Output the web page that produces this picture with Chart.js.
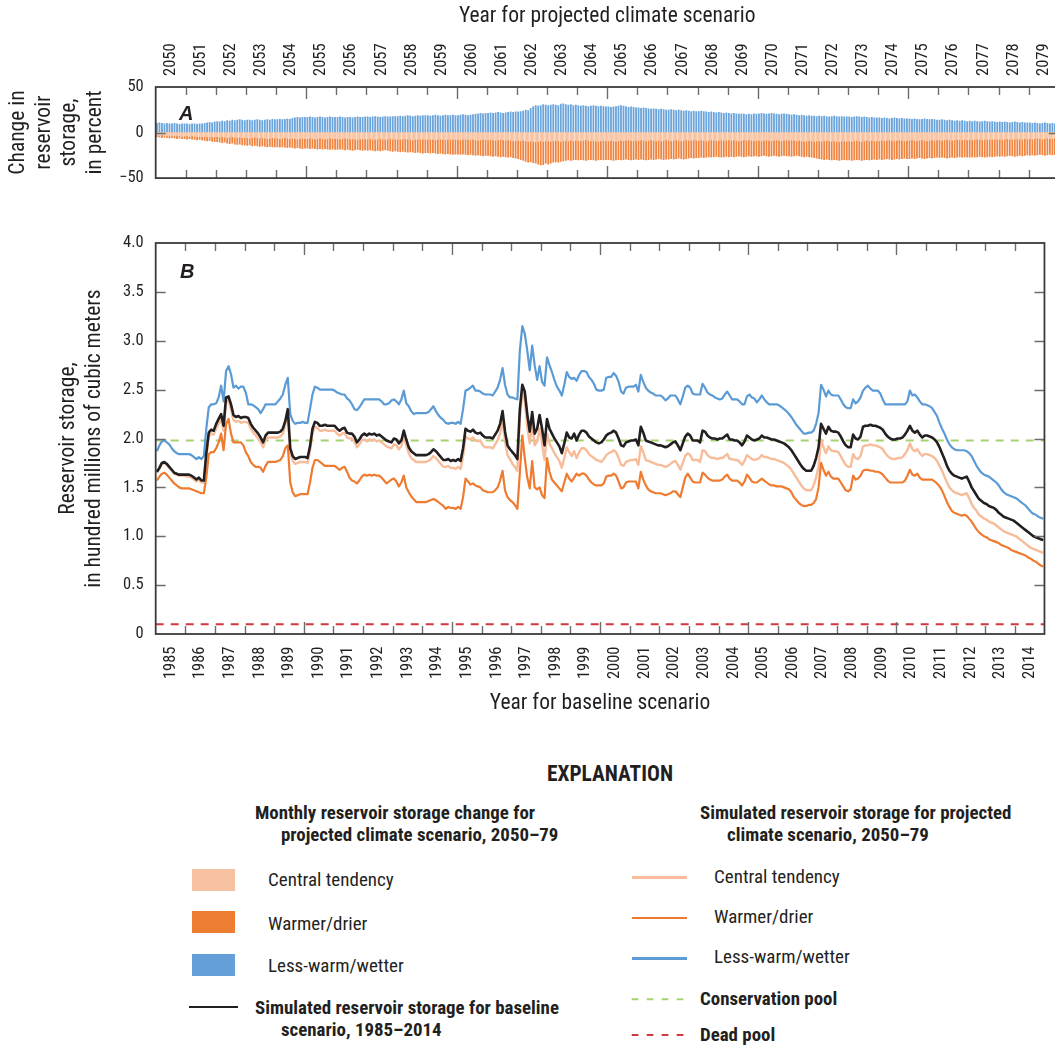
<!DOCTYPE html>
<html>
<head>
<meta charset="utf-8">
<script src="https://cdn.jsdelivr.net/npm/chart.js@4.4.1/dist/chart.umd.min.js"></script>
<style>
  html, body { margin: 0; padding: 0; background: #fff; }
  #wrap { position: relative; width: 1055px; height: 1046px; overflow: hidden; background: #fff;
          font-family: 'Roboto', sans-serif; font-stretch: condensed; color: #231f20; }
  .abs { position: absolute; white-space: nowrap; line-height: 1; }
  .lg { font-size: 19px; }
  .lgb { font-size: 18.9px; font-weight: bold; }
  .panel { font-family: 'Liberation Sans', sans-serif; font-stretch: normal; font-weight: bold; font-style: italic; font-size: 20px; }
</style>
</head>
<body>
<div id="wrap">
  <div class="abs" style="left:0;top:0;width:1062px;height:200px;"><canvas id="cA" width="1062" height="200"></canvas></div>
  <div class="abs" style="left:0;top:200px;width:1062px;height:520px;"><canvas id="cB" width="1062" height="520"></canvas></div>

  <div class="abs panel" style="left:179px;top:103px;">A</div>
  <div class="abs panel" style="left:180px;top:261px;">B</div>

  <!-- Explanation -->
  <div class="abs" style="left:410px;width:400px;text-align:center;top:763px;font-size:21.4px;font-weight:bold;">EXPLANATION</div>

  <div class="abs lgb" style="left:255px;top:804px;">Monthly reservoir storage change for</div>
  <div class="abs lgb" style="left:281px;top:825.7px;">projected climate scenario, 2050–79</div>
  <div class="abs" style="left:192px;top:869px;width:43px;height:22px;background:#f7c1a1;"></div>
  <div class="abs" style="left:192px;top:911px;width:43px;height:22px;background:#ed7d31;"></div>
  <div class="abs" style="left:192px;top:954px;width:43px;height:22px;background:#659fd8;"></div>
  <div class="abs lg" style="left:268px;top:870px;">Central tendency</div>
  <div class="abs lg" style="left:268px;top:914px;">Warmer/drier</div>
  <div class="abs lg" style="left:268px;top:955.7px;">Less-warm/wetter</div>
  <div class="abs" style="left:189px;top:1006px;width:49px;height:2.4px;background:#231f20;"></div>
  <div class="abs lgb" style="left:255px;top:999px;">Simulated reservoir storage for baseline</div>
  <div class="abs lgb" style="left:281px;top:1020.7px;">scenario, 1985–2014</div>

  <div class="abs lgb" style="left:700px;top:804px;">Simulated reservoir storage for projected</div>
  <div class="abs lgb" style="left:727px;top:825.7px;">climate scenario, 2050–79</div>
  <div class="abs" style="left:632px;top:876px;width:55px;height:2.5px;background:#f7bc9a;"></div>
  <div class="abs" style="left:632px;top:916.5px;width:55px;height:2.5px;background:#ee7b30;"></div>
  <div class="abs" style="left:632px;top:957px;width:55px;height:2.5px;background:#5b9bd5;"></div>
  <div class="abs lg" style="left:714px;top:867.3px;">Central tendency</div>
  <div class="abs lg" style="left:714px;top:907.3px;">Warmer/drier</div>
  <div class="abs lg" style="left:714px;top:947.3px;">Less-warm/wetter</div>
  <svg class="abs" style="left:630px;top:994px;" width="60" height="50">
    <line x1="1.7" y1="5.3" x2="60" y2="5.3" stroke="#a6d26f" stroke-width="2" stroke-dasharray="6.7 8.3"/>
    <line x1="1.7" y1="41" x2="60" y2="41" stroke="#d1373f" stroke-width="2" stroke-dasharray="6.7 8.3"/>
  </svg>
  <div class="abs lgb" style="left:700px;top:990px;">Conservation pool</div>
  <div class="abs lgb" style="left:700px;top:1025.7px;">Dead pool</div>
</div>

<script>
// ---------------- DATA ----------------
const projectedYears = ['2050','2051','2052','2053','2054','2055','2056','2057','2058','2059','2060','2061','2062','2063','2064','2065','2066','2067','2068','2069','2070','2071','2072','2073','2074','2075','2076','2077','2078','2079'];
const baselineYears = ['1985','1986','1987','1988','1989','1990','1991','1992','1993','1994','1995','1996','1997','1998','1999','2000','2001','2002','2003','2004','2005','2006','2007','2008','2009','2010','2011','2012','2013','2014'];

// Panel A: monthly reservoir storage change, percent (one row per year)
const lessWarmWetterChange = [
10.5,11,10.5,10,10.5,10,10,10.5,10,9.5,10,10,
10,9.5,10,10,9.5,10,10,10.5,11,11.5,11,12,
12.5,12,13,12.5,13.5,13,14,13.5,14,14.5,14,13.5,
14,14,13.5,14,14.5,14,13.5,14,14.5,14,15,14.5,
14.5,15,14.5,15,15.5,15,16,16.5,17,16.5,17,17,
17,17.5,17,16.5,17,17.5,17,16.5,17,17.5,17,17,
17,17.5,17,16.5,17,17,16.5,17,17.5,17,17,17.5,
17.5,17,17.5,18,17.5,17,17.5,18,17.5,17.5,18,18,
18,18.5,18,18.5,19,18.5,18,18.5,19,18.5,19,19,
19,18.5,19,19.5,19,18.5,19,19.5,19,19,19.5,19,
19,19.5,20,19.5,19,19.5,20,20.5,21,21.5,21,21.5,
21.5,22,21.5,22,22.5,22,21.5,22,22.5,23,22.5,23,
23,23.5,24,25,24.5,27,29,30,29.5,30,31,30.5,
30,30.5,31,30.5,30,31.5,32,31,30.5,31,30,30.5,
30,29.5,30,29.5,29,29.5,30,29.5,29,29.5,29,28.5,
28.5,28,28.5,29,29.5,30,29.5,29,28,28.5,28,27.5,
27.5,27,27.5,27,26.5,26,26.5,26,25.5,26,25.5,25,
25,25.5,25,24.5,25,24.5,24,24.5,24,23.5,24,23.5,
23.5,24,23.5,23,22.5,23,22.5,22,22.5,22,21.5,22,
21.5,21,21.5,21,20.5,21,20.5,20,20.5,20,21,20.5,
21,21.5,21,20.5,21,21.5,21,20.5,20,20.5,21,20.5,
20,19.5,20,19.5,19,19.5,19,18.5,19,18.5,18.5,18,
18.5,18,18.5,18,17.5,18,18.5,18,17.5,18,17.5,17.5,
17.5,17,17.5,18,17.5,17,17.5,17,16.5,17,16.5,16.5,
16.5,16,16.5,16,15.5,16,16.5,16,15.5,16,15.5,15.5,
15.5,15,15.5,15,14.5,15,15.5,15,14.5,15,14.5,14,
14,14.5,14,13.5,14,13.5,13,13.5,13,13.5,13,12.5,
13,12.5,13,12.5,12,12.5,13,12.5,12,12.5,12,11.5,
12,11.5,12,11.5,11,11.5,12,11.5,11,11.5,11,11,
11,10.5,11,10.5,10,10.5,11,10.5,10,10.5,10,10
];
const warmerDrierChange = [
-5,-5.5,-6,-5.5,-6,-6.5,-6,-6.5,-7,-6.5,-7,-7,
-7.5,-7,-7.5,-8,-8.5,-8,-8.5,-9,-9.5,-9,-10,-10.5,
-10.5,-11,-11.5,-11,-12,-12.5,-12,-13,-13.5,-13,-14,-14,
-14.5,-14,-15,-14.5,-15,-15.5,-15,-15.5,-16,-15.5,-16,-16,
-16,-16.5,-16,-16.5,-17,-16.5,-17,-17.5,-17,-17.5,-18,-17.5,
-17.5,-18,-17.5,-18,-18.5,-18,-18.5,-18,-18.5,-19,-18.5,-19,
-19,-18.5,-19,-19.5,-19,-19.5,-20,-19.5,-19,-19.5,-20,-19.5,
-20,-19.5,-20,-20.5,-20,-20.5,-20,-19.5,-20,-20.5,-21,-20.5,
-21,-21.5,-21,-21.5,-22,-21.5,-22,-22.5,-22,-22.5,-23,-22.5,
-22.5,-23,-22.5,-23,-23.5,-23,-23.5,-24,-23.5,-24,-24.5,-24,
-24,-24.5,-24,-24.5,-25,-24.5,-25,-25.5,-25,-25.5,-26,-25.5,
-25.5,-26,-26.5,-26,-26.5,-27,-26.5,-27,-27.5,-27,-28,-28.5,
-29,-30,-31,-32,-33,-32.5,-33.5,-34,-35,-36,-35.5,-34,
-35,-34,-33,-32.5,-33,-32,-31.5,-31,-30.5,-31,-30.5,-30,
-30.5,-30,-30.5,-31,-30.5,-30,-30.5,-31,-30.5,-30,-30.5,-30,
-30,-30.5,-31,-30.5,-30,-30.5,-30,-29.5,-30,-30.5,-30,-29.5,
-30,-29.5,-30,-30.5,-30,-29.5,-30,-29.5,-29,-29.5,-30,-29.5,
-29.5,-29,-29.5,-29,-28.5,-29,-29.5,-29,-28.5,-28,-28.5,-28,
-28,-27.5,-28,-27.5,-27,-27.5,-27,-26.5,-27,-27.5,-27,-26.5,
-27,-26.5,-27,-26.5,-26,-26.5,-27,-26.5,-26,-26.5,-26,-26,
-26.5,-26,-25.5,-26,-26.5,-26,-25.5,-26,-26.5,-26,-25.5,-26,
-26,-26.5,-26,-25.5,-26,-26.5,-27,-26.5,-27,-27.5,-28,-28.5,
-29,-29.5,-30,-29.5,-30,-30.5,-30,-30.5,-31,-30.5,-30,-30.5,
-30.5,-31,-30.5,-30,-30.5,-31,-30.5,-30,-30.5,-30,-29.5,-30,
-29.5,-30,-29.5,-29,-29.5,-30,-29.5,-29,-29.5,-29,-28.5,-29,
-29,-28.5,-29,-28.5,-28,-28.5,-29,-28.5,-28,-28.5,-28,-27.5,
-28,-27.5,-28,-28.5,-28,-27.5,-28,-27.5,-27,-27.5,-27,-27.5,
-27.5,-27,-27.5,-27,-26.5,-27,-27.5,-27,-26.5,-27,-26.5,-26,
-26.5,-26,-26.5,-26,-25.5,-26,-26.5,-26,-25.5,-26,-25.5,-25,
-25.5,-25,-25.5,-25,-24.5,-25,-25.5,-25,-24.5,-25,-24.5,-24
];
const centralTendencyChange = [
-3,-3.5,-3,-3.5,-4,-3.5,-4,-4,-3.5,-4,-4.5,-4,
-4,-4.5,-4,-4.5,-5,-4.5,-5,-4.5,-5,-5.5,-5,-5,
-5,-5.5,-5,-5.5,-6,-5.5,-5,-5.5,-6,-5.5,-6,-6,
-6,-6.5,-6,-5.5,-6,-6.5,-6,-6.5,-7,-6.5,-6,-6.5,
-6.5,-7,-6.5,-6,-6.5,-7,-6.5,-7,-7.5,-7,-6.5,-7,
-7,-6.5,-7,-7.5,-7,-6.5,-7,-7.5,-7,-6.5,-7,-7,
-7,-7.5,-7,-6.5,-7,-7.5,-7,-7.5,-8,-7.5,-7,-7.5,
-7.5,-7,-7.5,-8,-7.5,-7,-7.5,-8,-7.5,-7,-7.5,-7.5,
-7.5,-8,-7.5,-7,-7.5,-8,-8.5,-8,-7.5,-8,-7.5,-8,
-8,-7.5,-8,-8.5,-8,-7.5,-8,-8.5,-8,-7.5,-8,-8,
-8,-8.5,-8,-7.5,-8,-8.5,-8,-8.5,-9,-8.5,-8,-8.5,
-8.5,-8,-8.5,-9,-8.5,-8,-8.5,-9,-8.5,-9,-9.5,-9,
-9,-9.5,-9,-9.5,-10,-9.5,-10,-10.5,-10,-9.5,-10,-9.5,
-9.5,-10,-9.5,-9,-9.5,-10,-9.5,-9,-9.5,-9,-9.5,-9,
-9,-9.5,-9,-8.5,-9,-9.5,-9,-9.5,-10,-9.5,-9,-9.5,
-9.5,-9,-9.5,-10,-9.5,-9,-9.5,-9,-8.5,-9,-9.5,-9,
-9,-8.5,-9,-9.5,-9,-8.5,-9,-9.5,-9,-9.5,-9,-8.5,
-9,-9.5,-9,-8.5,-9,-9.5,-9,-8.5,-9,-9,-8.5,-9,
-9,-8.5,-9,-9.5,-9,-8.5,-9,-9.5,-9,-8.5,-9,-9,
-8.5,-9,-8.5,-9,-9.5,-9,-8.5,-9,-8.5,-9,-9.5,-9,
-9,-9.5,-9,-8.5,-9,-9.5,-9,-8.5,-9,-9.5,-9,-8.5,
-9,-8.5,-9,-9.5,-9,-9.5,-10,-9.5,-9,-9.5,-10,-9.5,
-9.5,-10,-9.5,-9,-9.5,-10,-9.5,-10,-10.5,-10,-9.5,-10,
-9.5,-10,-9.5,-9,-9.5,-10,-9.5,-9,-9.5,-9,-9.5,-9.5,
-9.5,-9,-9.5,-9,-8.5,-9,-9.5,-9,-8.5,-9,-9.5,-9,
-9,-8.5,-9,-9.5,-9,-8.5,-9,-9.5,-9,-8.5,-9,-8.5,
-8.5,-9,-8.5,-8,-8.5,-9,-8.5,-8,-8.5,-8.5,-8,-8.5,
-8,-8.5,-8,-7.5,-8,-8.5,-8,-7.5,-8,-8,-7.5,-8,
-7.5,-8,-7.5,-7,-7.5,-8,-7.5,-7,-7.5,-7.5,-7,-7.5,
-7,-7.5,-7,-6.5,-7,-7.5,-7,-6.5,-7,-7,-6.5,-7
];

// Panel B: monthly reservoir storage, hundred millions of cubic meters (one row per year)
const baselineStorage = [
1.66,1.70,1.75,1.76,1.74,1.71,1.68,1.65,1.64,1.63,1.63,1.63,
1.63,1.63,1.62,1.60,1.58,1.60,1.57,1.57,1.85,2.06,2.09,2.08,
2.15,2.20,2.25,2.13,2.42,2.43,2.35,2.24,2.22,2.23,2.21,2.22,
2.22,2.21,2.15,2.11,2.08,2.05,2.01,1.96,2.03,2.06,2.06,2.06,
2.06,2.06,2.07,2.10,2.18,2.30,1.90,1.82,1.79,1.80,1.81,1.81,
1.81,1.80,1.92,2.10,2.17,2.16,2.13,2.13,2.14,2.13,2.13,2.13,
2.13,2.10,2.08,2.10,2.11,2.06,2.05,2.05,2.02,1.96,1.99,2.03,
2.05,2.03,2.05,2.04,2.05,2.03,2.04,2.02,2.00,1.98,1.97,1.96,
2.00,1.99,1.95,1.98,2.08,1.99,1.91,1.87,1.85,1.83,1.83,1.83,
1.83,1.83,1.84,1.86,1.89,1.87,1.84,1.81,1.78,1.78,1.79,1.77,
1.78,1.77,1.79,1.77,1.90,2.10,2.08,2.07,2.09,2.06,2.05,2.06,
2.03,2.01,2.01,2.01,2.00,2.04,2.08,2.15,2.28,2.07,1.93,1.89,
1.86,1.83,1.79,2.30,2.55,2.48,2.25,2.07,2.27,2.05,2.10,2.24,
2.10,1.93,2.20,2.10,2.05,2.00,1.96,1.92,1.85,1.95,2.06,2.01,
2.00,2.05,1.98,2.04,2.08,2.08,2.06,2.02,2.00,1.98,1.96,1.95,
1.96,1.99,2.03,2.05,2.06,2.08,2.06,2.00,1.93,1.92,1.96,1.97,
1.98,1.98,1.99,1.93,2.12,2.06,1.98,1.97,1.96,1.95,1.94,1.93,
1.93,1.92,1.91,1.92,1.94,1.96,1.97,1.93,1.88,1.95,2.02,2.05,
2.03,1.98,1.98,1.98,1.96,2.08,2.07,2.03,2.01,2.00,2.00,1.99,
2.00,2.00,2.02,2.04,1.99,1.99,1.98,1.98,1.96,1.93,1.97,2.03,
2.01,1.99,1.98,1.99,2.00,2.03,2.01,2.01,2.00,1.99,1.99,1.98,
1.97,1.96,1.95,1.93,1.91,1.88,1.84,1.80,1.76,1.72,1.69,1.67,
1.67,1.67,1.72,1.80,1.91,2.15,2.10,2.05,2.12,2.08,2.07,2.07,
2.06,2.02,1.97,1.93,1.91,1.91,2.04,2.00,1.99,2.02,2.12,2.13,
2.13,2.14,2.13,2.13,2.12,2.11,2.09,2.05,2.02,2.00,1.99,1.99,
2.00,2.00,2.01,2.04,2.08,2.13,2.08,2.06,2.08,2.04,2.01,2.03,
2.03,2.02,2.01,1.99,1.96,1.91,1.85,1.79,1.72,1.67,1.64,1.62,
1.61,1.60,1.59,1.60,1.61,1.56,1.50,1.46,1.42,1.38,1.36,1.34,
1.33,1.31,1.30,1.29,1.27,1.24,1.22,1.20,1.19,1.18,1.17,1.16,
1.14,1.12,1.10,1.08,1.06,1.04,1.02,1.00,0.99,0.98,0.97,0.96
];
const centralTendencyStorage = [
1.65,1.69,1.74,1.75,1.73,1.70,1.67,1.64,1.63,1.62,1.62,1.62,
1.61,1.61,1.60,1.58,1.56,1.58,1.55,1.55,1.81,2.02,2.05,2.04,
2.10,2.15,2.20,2.08,2.38,2.39,2.30,2.19,2.17,2.18,2.16,2.17,
2.17,2.16,2.10,2.06,2.03,2.00,1.96,1.91,1.98,2.01,2.01,2.01,
2.01,2.01,2.02,2.05,2.14,2.27,1.85,1.77,1.74,1.75,1.76,1.76,
1.76,1.75,1.87,2.05,2.12,2.11,2.08,2.08,2.09,2.08,2.08,2.08,
2.08,2.05,2.03,2.05,2.06,2.01,2.00,2.00,1.97,1.91,1.94,1.98,
1.99,1.97,1.99,1.98,1.99,1.97,1.98,1.96,1.94,1.92,1.91,1.90,
1.94,1.93,1.89,1.92,2.02,1.93,1.85,1.80,1.78,1.76,1.76,1.76,
1.76,1.76,1.77,1.79,1.82,1.80,1.77,1.74,1.71,1.71,1.72,1.70,
1.70,1.69,1.71,1.69,1.82,2.02,2.00,1.99,2.01,1.98,1.97,1.98,
1.93,1.91,1.91,1.91,1.90,1.94,1.98,2.05,2.19,1.97,1.83,1.79,
1.74,1.71,1.67,2.20,2.49,2.38,2.12,1.95,2.15,1.93,1.97,2.10,
1.95,1.78,2.05,1.95,1.90,1.85,1.81,1.77,1.70,1.80,1.91,1.86,
1.82,1.87,1.80,1.86,1.90,1.90,1.88,1.84,1.82,1.80,1.78,1.77,
1.76,1.79,1.83,1.85,1.86,1.88,1.86,1.80,1.73,1.72,1.76,1.77,
1.78,1.78,1.79,1.73,1.92,1.86,1.78,1.77,1.76,1.75,1.74,1.73,
1.73,1.72,1.71,1.72,1.74,1.76,1.77,1.73,1.68,1.75,1.82,1.85,
1.83,1.78,1.78,1.78,1.76,1.88,1.87,1.83,1.81,1.80,1.80,1.79,
1.80,1.80,1.82,1.84,1.79,1.79,1.78,1.78,1.76,1.73,1.77,1.83,
1.81,1.79,1.78,1.79,1.80,1.83,1.81,1.81,1.80,1.79,1.79,1.78,
1.77,1.76,1.75,1.73,1.71,1.68,1.64,1.60,1.56,1.52,1.49,1.47,
1.47,1.47,1.52,1.60,1.71,1.99,1.91,1.85,1.92,1.88,1.87,1.87,
1.86,1.82,1.77,1.73,1.71,1.71,1.84,1.80,1.79,1.82,1.92,1.93,
1.93,1.94,1.93,1.93,1.92,1.91,1.89,1.85,1.82,1.80,1.79,1.79,
1.80,1.80,1.81,1.84,1.88,1.95,1.89,1.87,1.89,1.85,1.82,1.84,
1.84,1.83,1.82,1.80,1.77,1.72,1.67,1.61,1.55,1.50,1.47,1.45,
1.44,1.43,1.42,1.43,1.44,1.39,1.33,1.29,1.26,1.22,1.20,1.18,
1.17,1.15,1.14,1.13,1.11,1.09,1.07,1.05,1.04,1.03,1.02,1.01,
1.00,0.98,0.96,0.94,0.92,0.90,0.88,0.87,0.86,0.85,0.84,0.83
];
const warmerDrierStorage = [
1.57,1.61,1.64,1.65,1.63,1.60,1.57,1.54,1.52,1.50,1.49,1.49,
1.49,1.49,1.48,1.47,1.46,1.45,1.44,1.44,1.60,1.84,1.86,1.86,
1.90,1.96,2.05,1.88,2.15,2.20,2.05,1.96,1.96,1.96,1.96,1.93,
1.86,1.82,1.76,1.73,1.71,1.71,1.70,1.66,1.72,1.76,1.76,1.76,
1.76,1.77,1.78,1.82,1.90,1.93,1.55,1.45,1.41,1.42,1.43,1.43,
1.43,1.43,1.55,1.70,1.78,1.78,1.76,1.74,1.72,1.72,1.72,1.72,
1.72,1.70,1.68,1.70,1.71,1.66,1.60,1.57,1.56,1.54,1.57,1.61,
1.63,1.62,1.63,1.62,1.63,1.62,1.62,1.60,1.57,1.54,1.56,1.58,
1.59,1.56,1.51,1.55,1.62,1.50,1.45,1.41,1.38,1.35,1.35,1.35,
1.35,1.35,1.36,1.37,1.38,1.37,1.35,1.33,1.31,1.28,1.30,1.29,
1.29,1.28,1.30,1.28,1.40,1.59,1.56,1.53,1.54,1.52,1.51,1.50,
1.47,1.46,1.45,1.45,1.45,1.47,1.50,1.57,1.67,1.47,1.40,1.37,
1.35,1.32,1.28,1.65,2.03,1.80,1.60,1.49,1.77,1.50,1.48,1.50,
1.42,1.39,1.80,1.66,1.58,1.55,1.52,1.49,1.46,1.55,1.64,1.59,
1.56,1.60,1.64,1.62,1.64,1.64,1.62,1.58,1.55,1.53,1.52,1.52,
1.52,1.54,1.61,1.62,1.62,1.64,1.62,1.56,1.49,1.50,1.55,1.56,
1.56,1.56,1.56,1.49,1.66,1.58,1.52,1.48,1.46,1.45,1.44,1.44,
1.44,1.43,1.42,1.43,1.44,1.46,1.46,1.43,1.40,1.50,1.60,1.64,
1.60,1.56,1.55,1.55,1.55,1.65,1.63,1.60,1.58,1.57,1.57,1.57,
1.57,1.58,1.61,1.63,1.59,1.57,1.57,1.57,1.55,1.52,1.56,1.63,
1.60,1.56,1.55,1.55,1.57,1.59,1.57,1.55,1.53,1.52,1.52,1.51,
1.51,1.51,1.50,1.49,1.48,1.45,1.40,1.37,1.34,1.32,1.31,1.31,
1.32,1.32,1.34,1.38,1.50,1.75,1.68,1.62,1.66,1.61,1.59,1.59,
1.59,1.55,1.51,1.47,1.46,1.48,1.62,1.58,1.59,1.62,1.67,1.68,
1.68,1.67,1.67,1.66,1.66,1.65,1.63,1.60,1.57,1.55,1.55,1.55,
1.55,1.55,1.55,1.57,1.62,1.68,1.63,1.62,1.64,1.60,1.58,1.58,
1.58,1.58,1.58,1.56,1.54,1.51,1.47,1.41,1.35,1.30,1.26,1.24,
1.23,1.22,1.21,1.22,1.21,1.18,1.15,1.11,1.07,1.04,1.02,1.00,
0.99,0.97,0.96,0.95,0.94,0.93,0.91,0.90,0.89,0.88,0.86,0.85,
0.84,0.83,0.82,0.81,0.80,0.78,0.77,0.75,0.74,0.72,0.70,0.69
];
const lessWarmWetterStorage = [
1.87,1.93,1.97,1.98,1.96,1.94,1.90,1.87,1.85,1.84,1.84,1.84,
1.84,1.84,1.83,1.81,1.79,1.81,1.79,1.82,2.10,2.32,2.35,2.35,
2.36,2.42,2.54,2.38,2.69,2.74,2.66,2.52,2.54,2.51,2.53,2.53,
2.47,2.35,2.35,2.34,2.32,2.30,2.26,2.30,2.35,2.35,2.35,2.35,
2.35,2.38,2.41,2.45,2.55,2.62,2.25,2.18,2.15,2.16,2.16,2.17,
2.16,2.16,2.30,2.45,2.53,2.52,2.50,2.50,2.50,2.50,2.50,2.50,
2.49,2.47,2.46,2.45,2.45,2.41,2.39,2.35,2.30,2.29,2.32,2.36,
2.40,2.40,2.40,2.40,2.40,2.40,2.40,2.38,2.35,2.35,2.36,2.39,
2.40,2.38,2.35,2.40,2.49,2.36,2.33,2.28,2.25,2.26,2.26,2.26,
2.26,2.26,2.27,2.30,2.33,2.28,2.24,2.21,2.19,2.16,2.15,2.16,
2.16,2.15,2.17,2.15,2.30,2.49,2.50,2.52,2.54,2.49,2.49,2.48,
2.46,2.45,2.45,2.45,2.44,2.48,2.52,2.60,2.72,2.55,2.45,2.42,
2.42,2.41,2.40,2.90,3.15,3.07,2.90,2.70,2.95,2.75,2.60,2.74,
2.58,2.54,2.83,2.75,2.68,2.60,2.53,2.49,2.44,2.55,2.68,2.63,
2.61,2.62,2.59,2.65,2.69,2.69,2.68,2.63,2.60,2.56,2.50,2.49,
2.49,2.50,2.62,2.63,2.63,2.67,2.64,2.58,2.48,2.46,2.52,2.53,
2.53,2.53,2.55,2.48,2.65,2.58,2.52,2.49,2.47,2.46,2.44,2.44,
2.44,2.42,2.39,2.41,2.44,2.44,2.44,2.40,2.35,2.43,2.52,2.54,
2.52,2.46,2.45,2.45,2.45,2.56,2.52,2.47,2.45,2.44,2.42,2.41,
2.40,2.41,2.45,2.48,2.44,2.40,2.40,2.40,2.38,2.35,2.35,2.43,
2.45,2.42,2.41,2.37,2.40,2.44,2.40,2.37,2.35,2.35,2.35,2.35,
2.34,2.32,2.30,2.28,2.25,2.22,2.18,2.14,2.11,2.08,2.05,2.05,
2.06,2.06,2.08,2.15,2.26,2.55,2.50,2.43,2.49,2.45,2.44,2.44,
2.44,2.40,2.35,2.32,2.31,2.31,2.40,2.36,2.38,2.42,2.49,2.52,
2.54,2.51,2.49,2.49,2.49,2.46,2.40,2.35,2.35,2.35,2.35,2.35,
2.35,2.35,2.35,2.35,2.38,2.49,2.44,2.45,2.42,2.38,2.35,2.35,
2.34,2.33,2.31,2.27,2.23,2.16,2.10,2.05,1.99,1.94,1.91,1.89,
1.88,1.88,1.88,1.88,1.87,1.85,1.82,1.77,1.72,1.68,1.65,1.63,
1.62,1.61,1.59,1.57,1.55,1.52,1.48,1.45,1.43,1.42,1.41,1.40,
1.39,1.37,1.35,1.33,1.31,1.28,1.25,1.23,1.22,1.20,1.19,1.18
];
const conservationPool = 1.98;
const deadPool = 0.1;

// month positions (month i sits at i + 0.5 on a 0..360 month scale)
const monthPositions = lessWarmWetterChange.map((_, i) => i + 0.5);
const MONTHS = 12 * baselineYears.length;

// ---------------- STYLE ----------------
Chart.defaults.font.family = "Roboto, 'Liberation Sans', sans-serif";
Chart.defaults.font.weight = 'condensed';   // selects the condensed width of Roboto
Chart.defaults.color = '#231f20';

const TICK_SIZE = 16.5;
const TITLE_SIZE = 21.5;
const TITLE_LH = 1.19;

const framePlugin = {
  id: 'frame',
  afterDatasetsDraw(chart) {
    const { ctx, chartArea: { left, top, right, bottom } } = chart;
    const xs = chart.scales.x, ys = chart.scales.y;
    ctx.save();
    ctx.strokeStyle = '#6d6d6d';
    ctx.lineWidth = 1.4;
    ctx.beginPath();
    for (let k = 1; k < baselineYears.length; k++) {
      const px = Math.round(xs.getPixelForValue(12 * k)) + 0.5;
      const len = (k % 5 === 0) ? 12 : 8;
      ctx.moveTo(px, top); ctx.lineTo(px, top + len);
      ctx.moveTo(px, bottom); ctx.lineTo(px, bottom - len);
    }
    ys.ticks.forEach(t => {
      if (t.value <= ys.min || t.value >= ys.max) return;
      const py = Math.round(ys.getPixelForValue(t.value)) + 0.5;
      ctx.moveTo(left, py); ctx.lineTo(left + 10, py);
      ctx.moveTo(right, py); ctx.lineTo(right - 10, py);
    });
    ctx.stroke();
    ctx.strokeStyle = '#3b3b3b';
    ctx.lineWidth = 1.8;
    ctx.strokeRect(left, top, right - left, bottom - top);
    ctx.restore();
  }
};

const yearCenterTicks = (axis) => {
  axis.ticks = baselineYears.map((_, i) => ({ value: 12 * i + 6 }));
};

// ---------------- PANEL A ----------------
new Chart(document.getElementById('cA'), {
  type: 'bar',
  data: {
    labels: monthPositions,
    datasets: [
      { label: 'Central tendency', data: centralTendencyChange, backgroundColor: '#f9cdb1', order: 1 },
      { label: 'Warmer/drier', data: warmerDrierChange, backgroundColor: '#ef8540', order: 2 },
      { label: 'Less-warm/wetter', data: lessWarmWetterChange, backgroundColor: '#6aa4db', order: 3 }
    ]
  },
  options: {
    responsive: false, animation: false, events: [],
    datasets: { bar: { grouped: false, barPercentage: 0.72, categoryPercentage: 1, borderWidth: 0 } },
    layout: { padding: { left: 0, right: 3.3, top: 0, bottom: 17 } },
    plugins: { legend: { display: false }, tooltip: { enabled: false } },
    scales: {
      x: {
        type: 'linear', position: 'top', min: 0, max: MONTHS, offset: false,
        grid: { display: false, drawTicks: false }, border: { display: false },
        afterBuildTicks: yearCenterTicks,
        ticks: { autoSkip: false, maxRotation: 90, minRotation: 90, padding: 11, font: { size: TICK_SIZE },
                 labelOffset: TICK_SIZE * 1.2,
                 callback: (v, i) => projectedYears[i] },
        title: { display: true, text: 'Year for projected climate scenario', font: { size: TITLE_SIZE, lineHeight: TITLE_LH },
                 padding: { top: 3.7, bottom: 0 } },
        afterFit: (ax) => { ax.height = 87; }
      },
      y: {
        min: -50, max: 50,
        grid: { display: false, drawTicks: false }, border: { display: false },
        ticks: { stepSize: 25, padding: 12, font: { size: TICK_SIZE },
                 callback: (v) => v < 0 ? '\u2212' + Math.abs(v) : String(v) },
        title: { display: true, text: ['Change in', 'reservoir', 'storage,', 'in percent'],
                 font: { size: TITLE_SIZE, lineHeight: TITLE_LH }, padding: { top: 5.8, bottom: 0 } },
        afterFit: (ax) => { ax.width = 155.7; }
      }
    }
  },
  plugins: [framePlugin]
});

// ---------------- PANEL B ----------------
const lineDs = (label, data, color, width, order) => ({
  label, data, borderColor: color, borderWidth: width, pointRadius: 0, tension: 0,
  fill: false, borderJoinStyle: 'round', order
});
new Chart(document.getElementById('cB'), {
  type: 'line',
  data: {
    labels: monthPositions,
    datasets: [
      lineDs('Simulated reservoir storage for baseline scenario, 1985–2014', baselineStorage, '#231f20', 2.6, 1),
      lineDs('Less-warm/wetter', lessWarmWetterStorage, '#5b9bd5', 2.2, 2),
      lineDs('Warmer/drier', warmerDrierStorage, '#ee7b30', 2.2, 3),
      lineDs('Central tendency', centralTendencyStorage, '#f7bc9a', 2.4, 4),
      Object.assign(lineDs('Conservation pool', [{ x: 0, y: conservationPool }, { x: MONTHS, y: conservationPool }], '#a6d26f', 2, 5), { borderDash: [8, 7] }),
      Object.assign(lineDs('Dead pool', [{ x: 0, y: deadPool }, { x: MONTHS, y: deadPool }], '#d1373f', 2, 6), { borderDash: [8, 7] })
    ]
  },
  options: {
    responsive: false, animation: false, events: [],
    layout: { padding: { left: 0, right: 3.3, top: 43, bottom: 0 } },
    plugins: { legend: { display: false }, tooltip: { enabled: false } },
    scales: {
      x: {
        type: 'linear', position: 'bottom', min: 0, max: MONTHS, offset: false,
        grid: { display: false, drawTicks: false }, border: { display: false },
        afterBuildTicks: yearCenterTicks,
        ticks: { autoSkip: false, maxRotation: 90, minRotation: 90, padding: 12.5, font: { size: TICK_SIZE },
                 callback: (v, i) => baselineYears[i] },
        title: { display: true, text: 'Year for baseline scenario', font: { size: TITLE_SIZE, lineHeight: TITLE_LH },
                 padding: { top: 0, bottom: 3.2 } },
        afterFit: (ax) => { ax.height = 86; }
      },
      y: {
        min: 0, max: 4,
        grid: { display: false, drawTicks: false }, border: { display: false },
        ticks: { stepSize: 0.5, padding: 12, font: { size: TICK_SIZE },
                 callback: (v) => v === 0 ? '0' : v.toFixed(1) },
        title: { display: true, text: ['Reservoir storage,', 'in hundred millions of cubic meters'],
                 font: { size: TITLE_SIZE, lineHeight: TITLE_LH }, padding: { top: 56.2, bottom: 0 } },
        afterFit: (ax) => { ax.width = 155.7; }
      }
    }
  },
  plugins: [framePlugin]
});
</script>
</body>
</html>
